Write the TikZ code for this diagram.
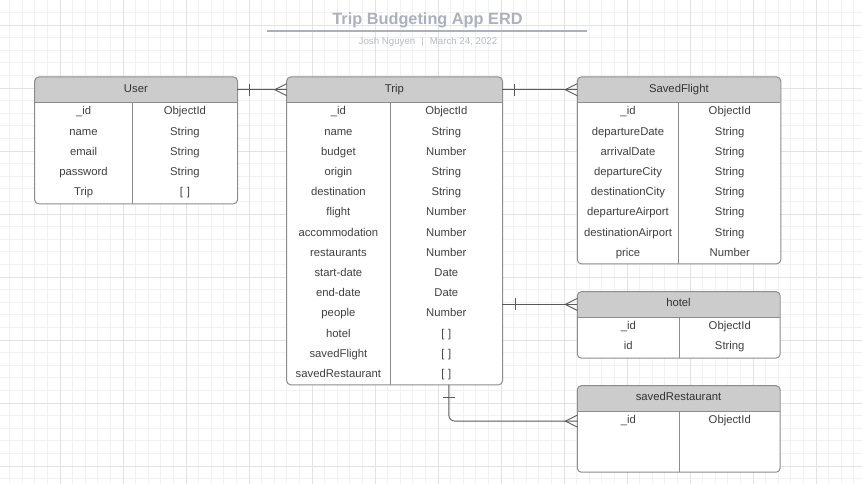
\documentclass[tikz,border=0pt]{standalone}
\usepackage{fontspec}
\setmainfont{Liberation Sans}
\usetikzlibrary{backgrounds}
\definecolor{titlegray}{HTML}{AAB1BD}
\definecolor{bylinegray}{HTML}{B5BAC3}
\definecolor{gridminor}{HTML}{F1F1F1}
\definecolor{gridmajor}{HTML}{E2E2E2}
\tikzstyle{entityhead} = [inner sep=0pt, minimum height=25pt, text height=8pt,
  text depth=3pt, text=black!80, font=\fontsize{11.3pt}{13pt}\selectfont]
\tikzstyle{fieldcol} = [inner sep=0pt, align=center, text height=12.4pt,
  text=black!75, font=\fontsize{11.3pt}{20.2pt}\selectfont]
\tikzstyle{boxline} = [draw=black!45, line width=1pt]
\tikzstyle{relation} = [draw, color=black!65, line width=0.9pt]
\newcommand{\entity}[8]{
  \node (#1) [entityhead, minimum width={#4pt+#5pt}, anchor=north west]
    at #3 {#2};
  \node (#1k) [fieldcol, text width=#4pt, text depth=#6pt, anchor=north west]
    at (#1.south west) {#7};
  \node (#1t) [fieldcol, text width=#5pt, text depth=#6pt, anchor=north west]
    at (#1k.north east) {#8};
  \begin{scope}[on background layer]
    \fill [white, rounded corners=4pt] (#1.north west) rectangle (#1t.south east);
    \fill [black!20, rounded corners=4pt] (#1.south west) -- (#1.north west)
      -- (#1.north east) -- (#1.south east);
  \end{scope}
  \draw [boxline, rounded corners=4pt] (#1.north west) rectangle (#1t.south east);
  \draw [boxline] (#1.south west) -- (#1.south east);
  \draw [boxline] (#1k.north east) -- (#1k.south east);
}

\begin{document}
\begin{tikzpicture}[x=1pt,y=-1pt]
  \useasboundingbox (0,0) rectangle (862,484);

  % Grid paper
  \begin{scope}[on background layer]
    \draw [gridminor, line width=0.8pt, step=12.6pt, shift={(-3,25)}] (-10,470) grid (870,-40);
    \draw [gridmajor, line width=0.8pt, step=63pt, shift={(-3,25)}] (-10,470) grid (870,-40);
  \end{scope}

  % Title block
  \node (title) [anchor=base, text=titlegray, font=\bfseries\fontsize{16.3pt}{18pt}\selectfont]
    at (427.5,25) {Trip Budgeting App ERD};
  \draw [titlegray, line width=1.4pt] (267,31) -- (587,31);
  \node (byline) [anchor=base, text=bylinegray, font=\fontsize{9.7pt}{11pt}\selectfont]
    at (428,44.3) {Josh Nguyen\hspace{6pt}|\hspace{6pt}March 24, 2022};

  % Draw diagram elements
  \entity{user}{User}{(34.7,77)}{97.3}{104.7}{88.6}
    {\_id\\name\\email\\password\\Trip}
    {ObjectId\\String\\String\\String\\{[\ ]}}
  \entity{trip}{Trip}{(286.7,77)}{103}{112}{269.6}
    {\_id\\name\\budget\\origin\\destination\\flight\\accommodation\\restaurants\\start-date\\end-date\\people\\hotel\\savedFlight\\savedRestaurant}
    {ObjectId\\String\\Number\\String\\String\\Number\\Number\\Number\\Date\\Date\\Number\\{[\ ]}\\{[\ ]}\\{[\ ]}}
  \entity{savedflight}{SavedFlight}{(577.3,77)}{101}{101.7}{148.6}
    {\_id\\departureDate\\arrivalDate\\departureCity\\destinationCity\\departureAirport\\destinationAirport\\price}
    {ObjectId\\String\\String\\String\\String\\String\\String\\Number}
  \entity{hotel}{hotel}{(577.3,291.7)}{101.7}{100.3}{28.2}
    {\_id\\id}
    {ObjectId\\String}
  \entity{savedrestaurant}{savedRestaurant}{(577.3,385.7)}{101.7}{100.3}{48.3}
    {\_id}
    {ObjectId}

  % Relations
  \coordinate (hotelin) at (trip.east |- hotel.west);
  \coordinate (tripout) at ([xshift=2.5pt]tript.south);
  \coordinate (restin) at ([yshift=-10pt]savedrestaurant.south west);

  \path [relation] (user) -- (trip);
  \draw [relation] ([xshift=12pt,yshift=6pt]user.east) -- ([xshift=12pt,yshift=-6pt]user.east);
  \draw [relation] ([yshift=6pt]trip.west) -- ([xshift=-12pt]trip.west) -- ([yshift=-6pt]trip.west);

  \path [relation] (trip) -- (savedflight);
  \draw [relation] ([xshift=12.3pt,yshift=6pt]trip.east) -- ([xshift=12.3pt,yshift=-6pt]trip.east);
  \draw [relation] ([yshift=6pt]savedflight.west) -- ([xshift=-12pt]savedflight.west) -- ([yshift=-6pt]savedflight.west);

  \path [relation] (hotelin) -- (hotel);
  \draw [relation] ([xshift=13pt,yshift=6pt]hotelin) -- ([xshift=13pt,yshift=-6pt]hotelin);
  \draw [relation] ([yshift=6pt]hotel.west) -- ([xshift=-12pt]hotel.west) -- ([yshift=-6pt]hotel.west);

  \path [relation, rounded corners=6pt] (tripout) |- (restin);
  \draw [relation] ([xshift=-6pt,yshift=-13pt]tripout) -- ([xshift=6pt,yshift=-13pt]tripout);
  \draw [relation] ([yshift=6pt]restin) -- ([xshift=-12pt]restin) -- ([yshift=-6pt]restin);
\end{tikzpicture}
\end{document}
